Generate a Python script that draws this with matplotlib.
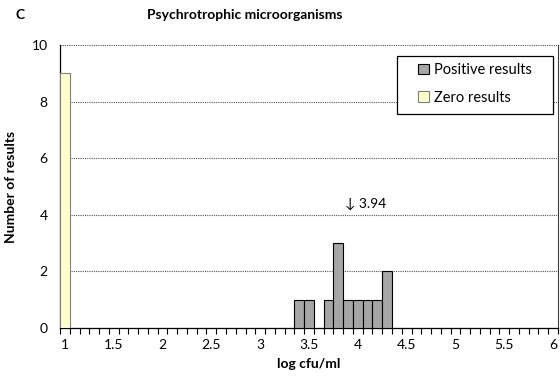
import numpy as np
import matplotlib
matplotlib.use("Agg")
import matplotlib.pyplot as plt
from matplotlib.patches import Rectangle

plt.rcParams["font.family"] = ["Lato", "DejaVu Sans"]

# Category bins (log cfu/ml), step 0.1
categories = [round(1.0 + 0.1 * i, 1) for i in range(51)]
tick_labels = ["1", "1.5", "2", "2.5", "3", "3.5", "4", "4.5", "5", "5.5", "6"]

positive_bins = [3.4, 3.5, 3.7, 3.8, 3.9, 4.0, 4.1, 4.2, 4.3]
positive_counts = [1, 1, 1, 3, 1, 1, 1, 1, 2]

zero_bins = [1.0]
zero_counts = [9]

mean_value = 3.94

idx = {c: i for i, c in enumerate(categories)}

W, H = 560, 390
fig = plt.figure(figsize=(W / 100, H / 100), dpi=100)
ax = fig.add_axes([60 / W, 1 - 328 / H, 498 / W, 283 / H])

ax.bar([idx[b] for b in positive_bins], positive_counts, width=1.0,
       color="#a6a6a6", edgecolor="black", linewidth=0.8,
       label="Positive results", zorder=3)
ax.bar([idx[b] for b in zero_bins], zero_counts, width=1.0,
       color="#ffffcc", edgecolor="#7f7f7f", linewidth=0.8,
       label="Zero results", zorder=3)

ax.set_xlim(-0.5, len(categories) - 0.5)
ax.set_ylim(0, 10)

# labels every 5th bin, small tick marks at bin boundaries
ax.set_xticks([idx[float(t)] for t in tick_labels])
ax.set_xticklabels(tick_labels, fontsize=10)
ax.tick_params(axis="x", length=0, pad=8)
ax.set_xticks(np.arange(-0.5, len(categories), 1.0), minor=True)
ax.tick_params(axis="x", which="minor", length=4, width=0.8, direction="out")

ax.set_yticks(range(0, 11, 2))
ax.tick_params(axis="y", labelsize=10, length=0, pad=9)
ax.yaxis.grid(True, linestyle=(0, (1, 1)), color="#555555", linewidth=0.8, zorder=0)

for s in ["left", "bottom"]:
    ax.spines[s].set_color("black")
    ax.spines[s].set_linewidth(0.9)
ax.spines["top"].set_visible(False)
ax.spines["right"].set_color("#404040")
ax.spines["right"].set_linewidth(0.8)

ax.set_xlabel("log cfu/ml", fontsize=10, fontweight="bold", labelpad=5)
ax.set_ylabel("Number of results", fontsize=10, fontweight="bold", labelpad=10)

# mean marker
mean_x = idx[round(mean_value, 1)] - 0.3
ax.text(mean_x, 4.4, "\u2193 " + f"{mean_value:.2f}", fontsize=10,
        va="center", ha="left", zorder=4)

# legend with a wide Excel-like frame
fig.patches.append(Rectangle((397 / W, 1 - 114 / H), 156 / W, 58 / H,
                             transform=fig.transFigure, facecolor="white",
                             edgecolor="black", linewidth=0.9, zorder=5))
leg = fig.legend(*ax.get_legend_handles_labels(), loc="center left",
                 bbox_to_anchor=(418 / W, 1 - 84 / H), fontsize=10.5,
                 frameon=False, handlelength=0.75, handleheight=0.75,
                 handletextpad=0.35, borderpad=0, borderaxespad=0,
                 labelspacing=0.95)
leg.set_zorder(6)

fig.text(15 / W, 1 - 15 / H, "C", fontsize=10, fontweight="bold", va="center")
fig.text(245 / W, 1 - 15 / H, "Psychrotrophic microorganisms", fontsize=10,
         fontweight="bold", va="center", ha="center")

fig.savefig("out.png", dpi=100)
